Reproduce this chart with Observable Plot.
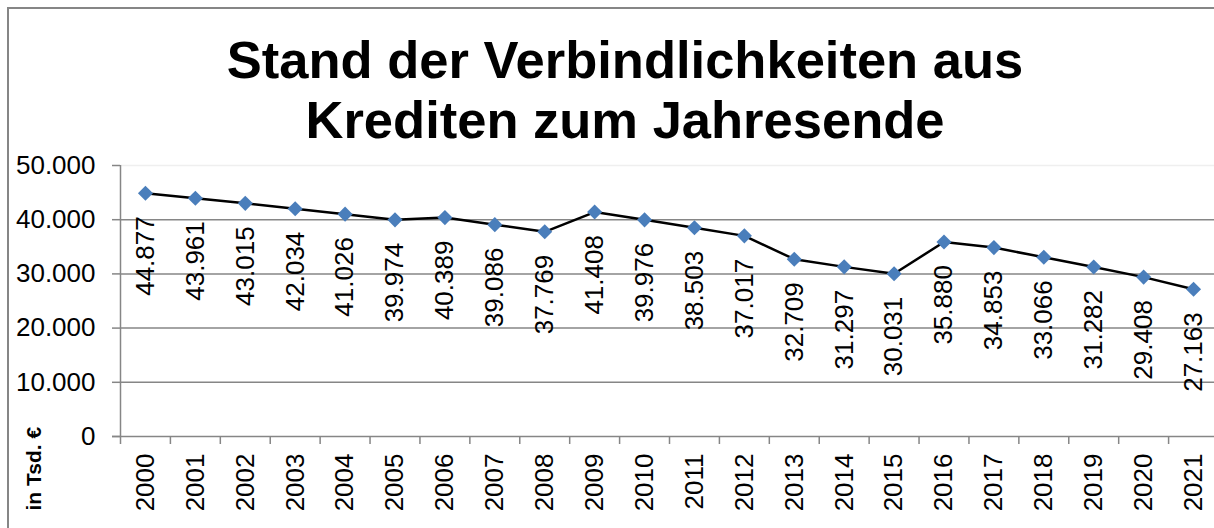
<!DOCTYPE html>
<html>
<head>
<meta charset="utf-8">
<script src="https://cdn.jsdelivr.net/npm/d3@7"></script>
<script src="https://cdn.jsdelivr.net/npm/@observablehq/plot@0.6"></script>
<style>
  html, body { margin: 0; padding: 0; background: #fff; }
  #wrap { position: relative; width: 1214px; height: 528px; overflow: hidden; background: #fff; }
  #title { position: absolute; left: 0; top: 30px; width: 1250px; text-align: center;
    font-family: "Liberation Sans", Arial, sans-serif; font-weight: bold; font-size: 52.5px; line-height: 60px; color: #000; z-index: 2; }
  #border { position: absolute; left: 7px; top: 7px; width: 1220px; height: 540px; border: 2px solid #868686; box-sizing: border-box; pointer-events: none; z-index: 3; }
  #chart { position: absolute; left: 0; top: 0; }
</style>
</head>
<body>
<div id="wrap">
  <div id="chart"></div>
  <div id="title">Stand der Verbindlichkeiten aus<br>Krediten zum Jahresende</div>
  <div id="border"></div>
</div>
<script>
const years = ["2000","2001","2002","2003","2004","2005","2006","2007","2008","2009","2010","2011","2012","2013","2014","2015","2016","2017","2018","2019","2020","2021"];
const values = [44877, 43961, 43015, 42034, 41026, 39974, 40389, 39086, 37769, 41408, 39976, 38503, 37017, 32709, 31297, 30031, 35880, 34853, 33066, 31282, 29408, 27163];
const yTicks = [0, 10000, 20000, 30000, 40000, 50000];
const unitLabel = "in Tsd. €";

const data = years.map((year, i) => ({year, value: values[i]}));
const de = d3.formatLocale({decimal: ",", thousands: ".", grouping: [3], currency: ["", " €"]});
const fmt = de.format(",d");

const W = 1214, H = 528;
const mL = 120, mR = -4;
const bw = (W - mL - mR) / years.length;
const grey = "#868686";

const chart = Plot.plot({
  width: W,
  height: H,
  marginLeft: mL,
  marginRight: mR,
  marginTop: 165,
  marginBottom: 92,
  style: {fontFamily: "'Liberation Sans', Arial, sans-serif", fontSize: "26px", color: "#000", background: "#fff", overflow: "visible"},
  x: {type: "band", domain: years, padding: 0, round: false, label: null},
  y: {domain: [0, 50000], label: null},
  marks: [
    Plot.ruleY([50000], {stroke: "#efefef", strokeWidth: 1.5}),
    Plot.ruleY(yTicks.filter(d => d > 0 && d < 50000), {stroke: grey, strokeWidth: 1.5}),
    Plot.ruleY([0], {stroke: grey, strokeWidth: 1.5, insetLeft: -8}),
    Plot.ruleX([years[0]], {dx: -bw / 2, y1: 0, y2: 50000, stroke: grey, strokeWidth: 1.5}),
    Plot.axisY({ticks: yTicks, tickSize: 8, tickPadding: 17, tickFormat: fmt, fontSize: 26, stroke: grey, strokeWidth: 1.5, fill: "#000", label: null}),
    Plot.axisX({tickSize: 8, tickFormat: () => "", dx: -bw / 2, stroke: grey, strokeWidth: 1.5, label: null}),
    Plot.axisX({tickSize: 0, tickPadding: 17, tickRotate: -90, fontSize: 26, fill: "#000", label: null}),
    Plot.line(data, {x: "year", y: "value", stroke: "#000", strokeWidth: 2.5}),
    Plot.dot(data, {x: "year", y: "value", symbol: "diamond2", r: 6.8, fill: "#4a7ebb", stroke: "none"}),
    Plot.text(data, {x: "year", y: "value", text: d => fmt(d.value), rotate: -90, textAnchor: "end", dy: 23, fontSize: 26, fill: "#000"}),
    Plot.text([unitLabel], {frameAnchor: "bottom-left", text: d => d, rotate: -90, textAnchor: "start", dx: -80, dy: 74, fontSize: 21, fontWeight: "bold", fill: "#000"})
  ]
});
document.getElementById("chart").appendChild(chart);
</script>
</body>
</html>
